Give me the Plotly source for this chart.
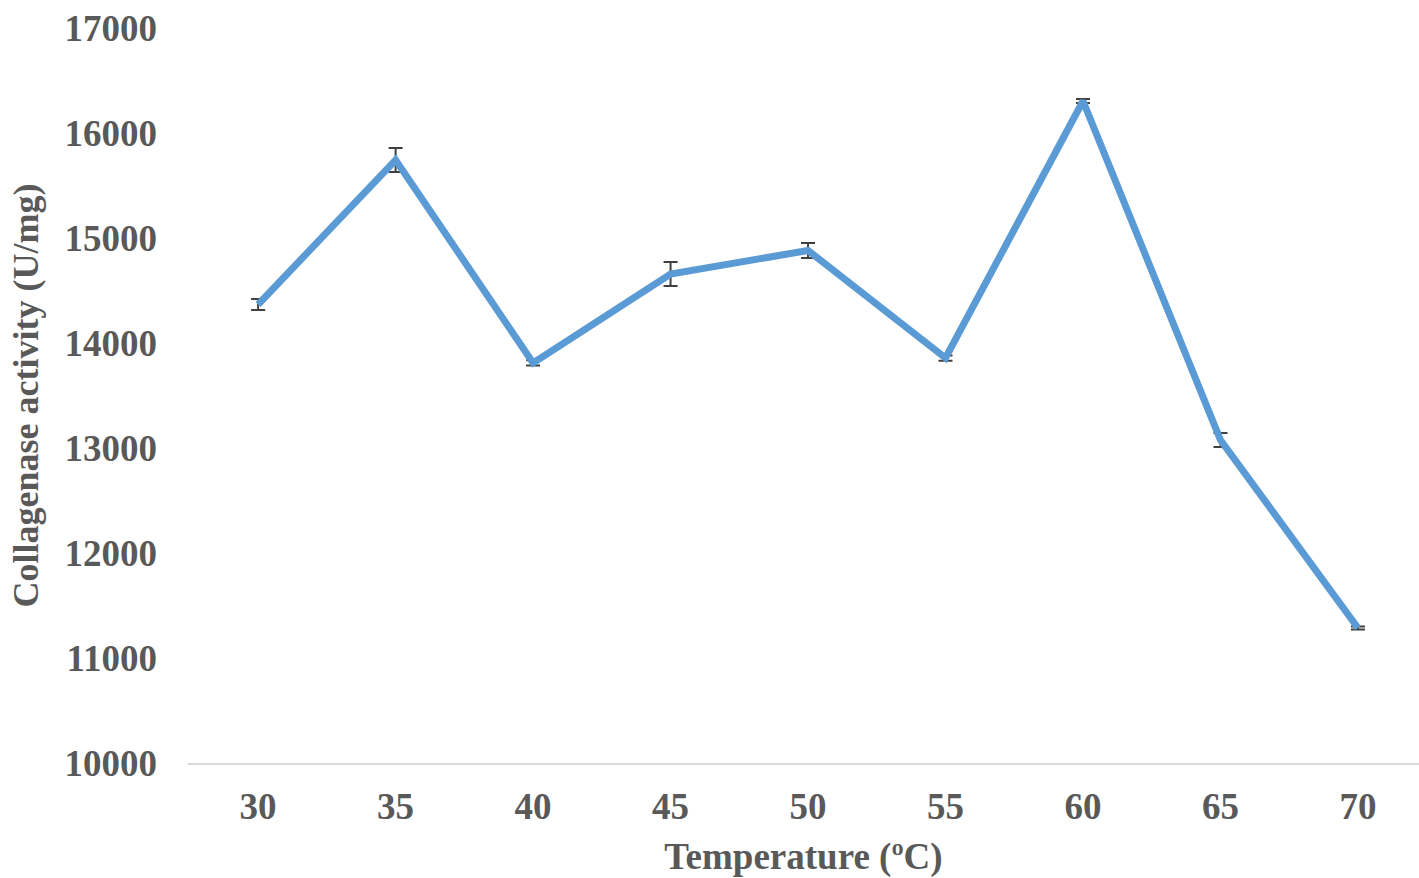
import plotly.graph_objects as go

temperature = [30, 35, 40, 45, 50, 55, 60, 65, 70]
activity = [14367, 15743, 13810, 14657, 14881, 13857, 16305, 13076, 11286]
error = [52, 114, 25, 114, 71, 25, 20, 67, 15]
tick_labels = ["30", "35", "40", "45", "50", "55", "60", "65", "70"]
y_ticks = [10000, 11000, 12000, 13000, 14000, 15000, 16000, 17000]
y_labels = ["10000", "11000", "12000", "13000", "14000", "15000", "16000", "17000"]

font_family = "Liberation Serif, Times New Roman, serif"
text_color = "#595959"

fig = go.Figure()
fig.add_trace(go.Scatter(
    x=temperature, y=activity, mode="lines",
    line=dict(color="#5B9BD5", width=7),
    error_y=dict(type="data", array=error, visible=True,
                 color="#404040", thickness=2, width=7),
))

fig.update_layout(
    width=1419, height=878,
    paper_bgcolor="white", plot_bgcolor="white",
    margin=dict(l=188, r=0, t=28, b=115),
    showlegend=False,
    font=dict(family=font_family, color=text_color, size=37),
    xaxis=dict(
        range=[27.45, 72.22], tickvals=temperature, ticktext=tick_labels,
        showgrid=False, zeroline=False, showline=True, linecolor="#d9d9d9", linewidth=2,
        ticks="", ticklabelstandoff=10, automargin=False,
        tickfont=dict(family=font_family, size=37, color=text_color, weight="bold"),
        title=dict(text="<b>Temperature (ºC)</b>", standoff=17,
                   font=dict(family=font_family, size=37, color=text_color)),
    ),
    yaxis=dict(
        range=[10000, 17000], tickvals=y_ticks, ticktext=y_labels,
        showgrid=False, zeroline=False, showline=False, ticks="",
        ticklabelstandoff=30, automargin=False,
        tickfont=dict(family=font_family, size=37, color=text_color, weight="bold"),
        title=dict(text="<b>Collagenase activity (U/mg)</b>", standoff=14,
                   font=dict(family=font_family, size=36, color=text_color)),
    ),
)

fig.write_html("out.html", config={"displayModeBar": False},
               post_script="document.body.style.margin='0';")
